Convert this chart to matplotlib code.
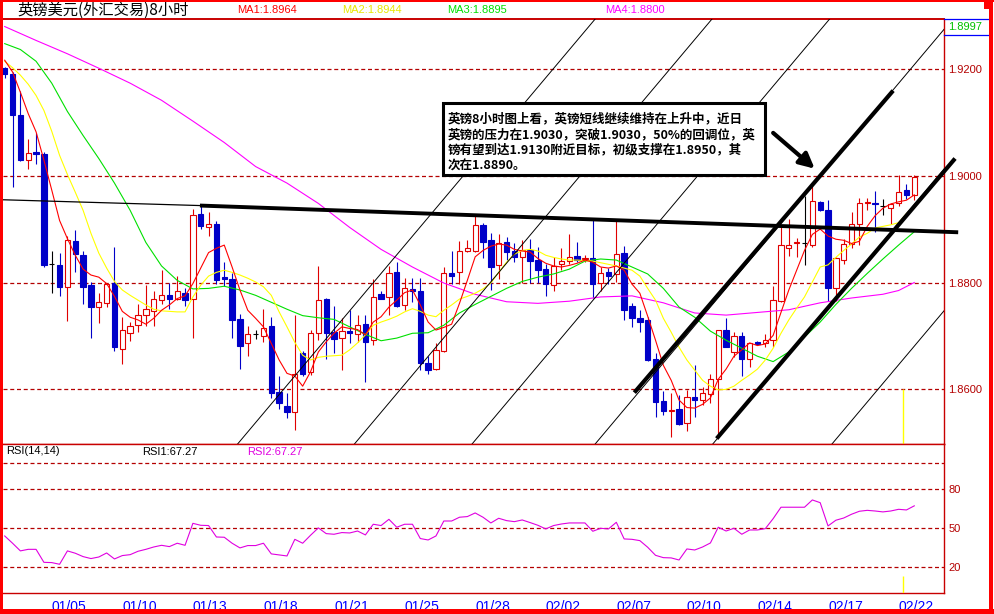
import numpy as np
import matplotlib
matplotlib.use("Agg")
import matplotlib.pyplot as plt
from matplotlib.patches import Rectangle
from matplotlib.lines import Line2D

# ---- 8 hour GBP/USD bars ----
opens = [1.9201, 1.9191, 1.9114, 1.9030, 1.9044, 1.9040, 1.8834, 1.8832, 1.8792, 1.8878,
         1.8851, 1.8795, 1.8754, 1.8762, 1.8799, 1.8676, 1.8705, 1.8720, 1.8739, 1.8747,
         1.8768, 1.8776, 1.8770, 1.8781, 1.8770, 1.8928, 1.8904, 1.8909, 1.8811, 1.8807,
         1.8731, 1.8686, 1.8703, 1.8700, 1.8719, 1.8596, 1.8569, 1.8558, 1.8669, 1.8632,
         1.8706, 1.8769, 1.8708, 1.8697, 1.8709, 1.8703, 1.8723, 1.8692, 1.8779, 1.8773,
         1.8819, 1.8758, 1.8787, 1.8784, 1.8649, 1.8638, 1.8672, 1.8817, 1.8819, 1.8859,
         1.8859, 1.8907, 1.8879, 1.8832, 1.8875, 1.8859, 1.8848, 1.8861, 1.8842, 1.8825,
         1.8795, 1.8834, 1.8840, 1.8849, 1.8844, 1.8845, 1.8799, 1.8820, 1.8816, 1.8855,
         1.8756, 1.8733, 1.8730, 1.8657, 1.8579, 1.8560, 1.8563, 1.8538, 1.8585, 1.8581,
         1.8591, 1.8619, 1.8712, 1.8670, 1.8700, 1.8657, 1.8688, 1.8686, 1.8693, 1.8765,
         1.8865, 1.8873, 1.8874, 1.8871, 1.8951, 1.8936, 1.8789, 1.8843, 1.8872, 1.8910,
         1.8948, 1.8949, 1.8943, 1.8939, 1.8948, 1.8973, 1.8964]
highs = [1.9203, 1.9194, 1.9159, 1.9069, 1.9079, 1.9045, 1.8859, 1.8855, 1.8887, 1.8898,
         1.8859, 1.8801, 1.8781, 1.8799, 1.8867, 1.8736, 1.8726, 1.8759, 1.8796, 1.8784,
         1.8823, 1.8800, 1.8812, 1.8789, 1.8938, 1.8944, 1.8932, 1.8916, 1.8839, 1.8817,
         1.8742, 1.8718, 1.8711, 1.8750, 1.8736, 1.8625, 1.8594, 1.8740, 1.8672, 1.8712,
         1.8830, 1.8771, 1.8756, 1.8733, 1.8748, 1.8740, 1.8740, 1.8806, 1.8785, 1.8830,
         1.8839, 1.8809, 1.8809, 1.8809, 1.8663, 1.8686, 1.8829, 1.8859, 1.8878, 1.8879,
         1.8926, 1.8911, 1.8893, 1.8890, 1.8885, 1.8873, 1.8879, 1.8882, 1.8867, 1.8835,
         1.8847, 1.8864, 1.8890, 1.8876, 1.8852, 1.8918, 1.8829, 1.8827, 1.8916, 1.8868,
         1.8762, 1.8748, 1.8735, 1.8668, 1.8597, 1.8593, 1.8589, 1.8599, 1.8645, 1.8604,
         1.8629, 1.8712, 1.8734, 1.8708, 1.8708, 1.8687, 1.8690, 1.8703, 1.8793, 1.8907,
         1.8918, 1.8884, 1.8961, 1.8980, 1.8953, 1.8955, 1.8847, 1.8882, 1.8932, 1.8958,
         1.8958, 1.8971, 1.8957, 1.8948, 1.9001, 1.8984, 1.9001]
lows = [1.9183, 1.8979, 1.9028, 1.9013, 1.9021, 1.8829, 1.8781, 1.8775, 1.8728, 1.8820,
        1.8759, 1.8696, 1.8724, 1.8754, 1.8672, 1.8647, 1.8690, 1.8708, 1.8718, 1.8719,
        1.8759, 1.8751, 1.8767, 1.8756, 1.8696, 1.8900, 1.8887, 1.8798, 1.8794, 1.8696,
        1.8638, 1.8663, 1.8695, 1.8689, 1.8584, 1.8563, 1.8547, 1.8524, 1.8625, 1.8627,
        1.8692, 1.8657, 1.8668, 1.8637, 1.8686, 1.8689, 1.8614, 1.8683, 1.8770, 1.8739,
        1.8754, 1.8748, 1.8764, 1.8636, 1.8628, 1.8636, 1.8670, 1.8798, 1.8798, 1.8857,
        1.8857, 1.8845, 1.8786, 1.8807, 1.8842, 1.8839, 1.8799, 1.8799, 1.8799, 1.8775,
        1.8784, 1.8823, 1.8834, 1.8839, 1.8838, 1.8771, 1.8784, 1.8798, 1.8801, 1.8730,
        1.8716, 1.8708, 1.8653, 1.8548, 1.8553, 1.8511, 1.8533, 1.8523, 1.8548, 1.8571,
        1.8574, 1.8511, 1.8679, 1.8660, 1.8625, 1.8642, 1.8683, 1.8680, 1.8680, 1.8764,
        1.8849, 1.8847, 1.8832, 1.8867, 1.8934, 1.8766, 1.8765, 1.8834, 1.8864, 1.8870,
        1.8936, 1.8895, 1.8926, 1.8910, 1.8944, 1.8957, 1.8954]
closes = [1.9190, 1.9114, 1.9030, 1.9042, 1.9040, 1.8832, 1.8834, 1.8791, 1.8879, 1.8854,
          1.8792, 1.8754, 1.8763, 1.8798, 1.8680, 1.8711, 1.8718, 1.8739, 1.8750, 1.8770,
          1.8776, 1.8769, 1.8784, 1.8768, 1.8927, 1.8905, 1.8909, 1.8804, 1.8807, 1.8730,
          1.8681, 1.8703, 1.8703, 1.8714, 1.8594, 1.8574, 1.8558, 1.8628, 1.8629, 1.8705,
          1.8767, 1.8706, 1.8695, 1.8709, 1.8705, 1.8721, 1.8688, 1.8773, 1.8770, 1.8817,
          1.8756, 1.8789, 1.8784, 1.8650, 1.8636, 1.8673, 1.8817, 1.8813, 1.8859, 1.8864,
          1.8907, 1.8876, 1.8829, 1.8874, 1.8857, 1.8848, 1.8861, 1.8840, 1.8823, 1.8798,
          1.8831, 1.8840, 1.8847, 1.8843, 1.8846, 1.8798, 1.8818, 1.8812, 1.8854, 1.8748,
          1.8733, 1.8726, 1.8655, 1.8577, 1.8560, 1.8562, 1.8535, 1.8586, 1.8580, 1.8594,
          1.8619, 1.8711, 1.8680, 1.8700, 1.8656, 1.8686, 1.8685, 1.8693, 1.8767, 1.8870,
          1.8870, 1.8875, 1.8874, 1.8952, 1.8936, 1.8789, 1.8845, 1.8872, 1.8909, 1.8948,
          1.8950, 1.8946, 1.8943, 1.8946, 1.8969, 1.8964, 1.8997]

# moving average lines as drawn on the chart
ma1 = [1.9216, 1.9194, 1.9156, 1.9116, 1.9082, 1.9029, 1.8973, 1.8916, 1.8882, 1.8851,
       1.8825, 1.8814, 1.8810, 1.8798, 1.8774, 1.8746, 1.8735, 1.8730, 1.8722, 1.8733,
       1.8748, 1.8758, 1.8770, 1.8775, 1.8798, 1.8827, 1.8856, 1.8864, 1.8870, 1.8829,
       1.8786, 1.8748, 1.8733, 1.8717, 1.8686, 1.8655, 1.8630, 1.8625, 1.8606, 1.8633,
       1.8670, 1.8689, 1.8705, 1.8717, 1.8714, 1.8712, 1.8702, 1.8726, 1.8736, 1.8754,
       1.8767, 1.8781, 1.8786, 1.8758, 1.8726, 1.8711, 1.8716, 1.8722, 1.8761, 1.8804,
       1.8848, 1.8860, 1.8868, 1.8872, 1.8870, 1.8862, 1.8859, 1.8857, 1.8845, 1.8836,
       1.8831, 1.8829, 1.8832, 1.8836, 1.8842, 1.8838, 1.8829, 1.8827, 1.8831, 1.8823,
       1.8797, 1.8780, 1.8737, 1.8692, 1.8645, 1.8617, 1.8580, 1.8566, 1.8565, 1.8572,
       1.8584, 1.8619, 1.8638, 1.8662, 1.8674, 1.8687, 1.8682, 1.8685, 1.8701, 1.8744,
       1.8786, 1.8823, 1.8860, 1.8890, 1.8900, 1.8887, 1.8881, 1.8879, 1.8873, 1.8877,
       1.8905, 1.8925, 1.8939, 1.8947, 1.8951, 1.8954, 1.8964]
ma2 = [1.9214, 1.9202, 1.9188, 1.9171, 1.9150, 1.9122, 1.9083, 1.9038, 1.9002, 1.8969,
       1.8935, 1.8892, 1.8855, 1.8827, 1.8802, 1.8786, 1.8776, 1.8767, 1.8758, 1.8750,
       1.8747, 1.8746, 1.8745, 1.8745, 1.8773, 1.8795, 1.8812, 1.8819, 1.8823, 1.8819,
       1.8814, 1.8808, 1.8801, 1.8792, 1.8776, 1.8745, 1.8717, 1.8688, 1.8664, 1.8655,
       1.8660, 1.8662, 1.8663, 1.8664, 1.8674, 1.8687, 1.8702, 1.8720, 1.8726, 1.8731,
       1.8737, 1.8745, 1.8751, 1.8746, 1.8739, 1.8736, 1.8748, 1.8758, 1.8769, 1.8774,
       1.8780, 1.8788, 1.8799, 1.8819, 1.8838, 1.8853, 1.8860, 1.8862, 1.8859, 1.8851,
       1.8847, 1.8844, 1.8842, 1.8842, 1.8841, 1.8840, 1.8837, 1.8834, 1.8831, 1.8827,
       1.8823, 1.8812, 1.8789, 1.8767, 1.8733, 1.8707, 1.8679, 1.8655, 1.8636, 1.8617,
       1.8606, 1.8599, 1.8600, 1.8606, 1.8617, 1.8627, 1.8638, 1.8655, 1.8677, 1.8705,
       1.8730, 1.8752, 1.8773, 1.8801, 1.8829, 1.8833, 1.8847, 1.8860, 1.8872, 1.8885,
       1.8892, 1.8902, 1.8905, 1.8908, 1.8912, 1.8929, 1.8944]
ma3_idx = list(range(0, 117, 2))
ma3 = [1.9247, 1.9236, 1.9214, 1.9173, 1.9120, 1.9075, 1.9032, 1.8986, 1.8935, 1.8875,
       1.8831, 1.8804, 1.8788, 1.8789, 1.8793, 1.8786, 1.8776, 1.8763, 1.8750, 1.8738,
       1.8734, 1.8731, 1.8717, 1.8703, 1.8691, 1.8696, 1.8705, 1.8706, 1.8720, 1.8743,
       1.8759, 1.8774, 1.8789, 1.8802, 1.8810, 1.8816, 1.8825, 1.8840, 1.8844, 1.8842,
       1.8829, 1.8816, 1.8789, 1.8754, 1.8735, 1.8709, 1.8692, 1.8677, 1.8662, 1.8652,
       1.8670, 1.8698, 1.8726, 1.8759, 1.8789, 1.8817, 1.8844, 1.8870, 1.8895]
ma4_idx = list(range(0, 113, 4)) + [114, 116]
ma4 = [1.9279, 1.9253, 1.9228, 1.9201, 1.9173, 1.9141, 1.9102, 1.9062, 1.9017, 1.8986,
       1.8948, 1.8903, 1.8862, 1.8829, 1.8799, 1.8778, 1.8764, 1.8761, 1.8765, 1.8773,
       1.8775, 1.8762, 1.8743, 1.8739, 1.8744, 1.8749, 1.8762, 1.8771, 1.8778, 1.8785,
       1.8800]

rsi = [44.1, 38.5, 32.6, 33.8, 33.8, 23.8, 23.6, 22.3, 32.6, 30.8,
       28.2, 26.7, 27.9, 31.0, 26.4, 29.0, 29.7, 32.3, 33.8, 35.6,
       36.9, 35.9, 38.5, 36.9, 53.8, 52.3, 52.1, 43.3, 43.1, 38.5,
       34.9, 36.7, 36.7, 38.5, 30.3, 29.5, 28.7, 41.5, 38.5, 44.6,
       50.3, 45.9, 45.4, 46.7, 46.4, 47.9, 44.9, 53.1, 52.1, 56.9,
       50.8, 53.1, 53.1, 42.1, 41.0, 44.1, 55.6, 55.6, 58.5, 59.0,
       61.8, 58.5, 54.1, 57.7, 55.9, 55.1, 56.4, 54.4, 52.3, 49.5,
       52.1, 53.3, 54.1, 54.1, 54.1, 47.7, 50.0, 49.5, 54.6, 41.8,
       41.5, 40.5, 35.4, 29.2, 27.4, 27.2, 25.6, 34.1, 33.3, 35.6,
       38.7, 50.8, 47.9, 50.0, 45.4, 48.7, 48.7, 49.7, 57.4, 66.2,
       66.2, 66.2, 66.2, 71.8, 69.7, 51.8, 56.2, 57.9, 60.8, 63.1,
       63.8, 63.3, 62.6, 63.3, 64.6, 64.1, 67.27]

day_idx = [6, 15, 24, 33, 42, 51, 60, 69, 78, 87, 96, 105, 114]
day_labels = ["01/05", "01/10", "01/13", "01/18", "01/21", "01/25", "01/28",
              "02/02", "02/07", "02/10", "02/14", "02/17", "02/22"]
price_ticks = [1.86, 1.88, 1.90, 1.92]
rsi_ticks = [20, 50, 80]
rsi_grid = [20, 50, 80, 100]

# hand drawn analysis lines (candle index, price)
fan_base = [30.2, 45.1, 60.1, 75.8, 90.8, 106.0]   # where each thin line crosses 1.8507
fan_slope = 0.001744
neck_thin = ([-0.6, 24.9], [1.8955, 1.8944])
neck = ([24.9, 121.6], [1.8944, 1.8894])
chan_upper = ([80.3, 113.3], [1.8594, 1.9159])
chan_lower = ([90.8, 121.2], [1.8508, 1.9032])
arrow_from = (98.0, 1.9080)
arrow_to = (103.3, 1.9013)

note_lines = ["英镑8小时图上看，英镑短线继续维持在上升中，近日",
              "英镑的压力在1.9030，突破1.9030，50%的回调位，英",
              "镑有望到达1.9130附近目标，初级支撑在1.8950，其",
              "次在1.8890。"]

W, H = 995, 614
CJK = ["Noto Sans CJK SC", "DejaVu Sans"]
plt.rcParams["font.family"] = ["Liberation Sans", "DejaVu Sans"]

RED_C = "#e00000"
BLUE_C = "#0000c8"
AX_RED = "#c80000"
GRID = "#b40000"
DASH = (0, (3.2, 2.2))


def fx(px):
    return px / W


def fy(py):
    return 1 - py / H


fig = plt.figure(figsize=(W / 100, H / 100), dpi=100)
fig.patch.set_facecolor("white")
ax = fig.add_axes([fx(3), fy(444), (944 - 3) / W, (444 - 19) / H])
ax2 = fig.add_axes([fx(3), fy(593), (944 - 3) / W, (593 - 444) / H])

xlim = (-0.217, 119.79)

# ---------------- price panel ----------------
bw = 0.68
for i, (o, h, l, c) in enumerate(zip(opens, highs, lows, closes)):
    if c > o:
        ax.vlines(i, l, o, color=RED_C, lw=0.8, zorder=2)
        ax.vlines(i, c, h, color=RED_C, lw=0.8, zorder=2)
        ax.add_patch(Rectangle((i - bw / 2, o), bw, c - o, facecolor="white",
                               edgecolor=RED_C, lw=0.8, zorder=3))
    elif c < o:
        ax.vlines(i, l, h, color=BLUE_C, lw=0.8, zorder=2)
        ax.add_patch(Rectangle((i - bw / 2, c), bw, o - c, facecolor=BLUE_C,
                               edgecolor=BLUE_C, lw=0.8, zorder=3))
    else:
        ax.vlines(i, l, h, color="black", lw=0.8, zorder=2)
        ax.hlines(c, i - bw / 2, i + bw / 2, color="black", lw=0.8, zorder=3)

idx = np.arange(len(closes))
ax.plot(ma4_idx, ma4, color="#ff00ff", lw=0.8, zorder=4)
ax.plot(ma3_idx, ma3, color="#00e000", lw=0.8, zorder=4)
ax.plot(idx, ma2, color="#ffff00", lw=0.8, zorder=4)
ax.plot(idx, ma1, color="#ff0000", lw=0.8, zorder=4)

for v in price_ticks:
    ax.axhline(v, color=GRID, lw=0.9, ls=DASH, zorder=1)

# thin parallel lines
p0 = 1.85065
for b in fan_base:
    ax.plot([b - 15, b + 60], [p0 - 15 * fan_slope, p0 + 60 * fan_slope],
            color="black", lw=0.7, zorder=4)

ax.plot(*neck_thin, color="black", lw=0.9, zorder=5)
ax.plot(*neck, color="black", lw=2.8, zorder=5, clip_on=False, solid_capstyle="butt")
ax.plot(*chan_upper, color="black", lw=3, zorder=5, solid_capstyle="butt")
ax.plot(*chan_lower, color="black", lw=3, zorder=5, clip_on=False, solid_capstyle="butt")
ax.annotate("", xy=arrow_to, xytext=arrow_from, annotation_clip=False, zorder=6,
            arrowprops=dict(arrowstyle="-|>,head_length=0.9,head_width=0.45",
                            lw=3, color="black", shrinkA=0, shrinkB=0))

ax.vlines(114.5, 1.8497, 1.86, color="#ffff00", lw=1, zorder=4)

ax.set_xlim(*xlim)
ax.set_ylim(1.84978, 1.92931)
ax.set_xticks([])
ax.yaxis.tick_right()
ax.set_yticks(price_ticks)
ax.set_yticklabels([f"{v:.4f}" for v in price_ticks])
ax.tick_params(axis="y", length=0, pad=3, labelsize=8, labelcolor=GRID)
ax.spines["left"].set_visible(False)
for s in ["top", "right", "bottom"]:
    ax.spines[s].set_color(AX_RED)
ax.spines["top"].set_linewidth(1.4)
ax.spines["right"].set_linewidth(1.0)
ax.spines["bottom"].set_linewidth(1.0)

# ---------------- RSI panel ----------------
for v in rsi_grid:
    ax2.axhline(v, color=GRID, lw=0.9, ls=DASH, zorder=1)
ax2.plot(idx, rsi, color="#e000e0", lw=0.8, zorder=3)
ax2.vlines(114.5, 0, 13.5, color="#ffff00", lw=1, zorder=3)
ax2.set_xlim(*xlim)
ax2.set_ylim(0.2, 114.85)
ax2.yaxis.tick_right()
ax2.set_yticks(rsi_ticks)
ax2.set_yticklabels([str(v) for v in rsi_ticks])
ax2.tick_params(axis="y", length=0, pad=3, labelsize=8, labelcolor=GRID)
ax2.set_xticks(day_idx)
ax2.set_xticklabels(day_labels)
ax2.tick_params(axis="x", length=0, pad=5, labelsize=10, labelcolor="#0000ff")
for lbl in ax2.get_xticklabels():
    lbl.set_ha("left")
ax2.spines["left"].set_visible(False)
for s in ["top", "right", "bottom"]:
    ax2.spines[s].set_color(AX_RED)
    ax2.spines[s].set_linewidth(1.0)

ax2.text(0.003, 0.955, "RSI(14,14)", transform=ax2.transAxes, fontsize=8,
         color="black", va="center")
fig.text(fx(142), fy(452), f"RSI1:{rsi[-1]:.2f}", fontsize=8, color="black", va="center")
fig.text(fx(247), fy(452), f"RSI2:{rsi[-1]:.2f}", fontsize=8, color="#e000e0", va="center")

# ---------------- header ----------------
fig.text(fx(17), fy(10), "英镑美元(外汇交易)8小时", fontsize=11, family=CJK,
         color="black", va="center")
fig.text(fx(237), fy(10), f"MA1:{ma1[-1]:.4f}", fontsize=8, color="#ff0000", va="center")
fig.text(fx(342), fy(10), f"MA2:{ma2[-1]:.4f}", fontsize=8, color="#e8e800", va="center")
fig.text(fx(447), fy(10), f"MA3:{ma3[-1]:.4f}", fontsize=8, color="#00e000", va="center")
fig.text(fx(605), fy(10), f"MA4:{ma4[-1]:.4f}", fontsize=8, color="#ff00ff", va="center")

# last price box at top right
for yy in (19, 35):
    fig.add_artist(Line2D([fx(944), fx(990)], [fy(yy), fy(yy)], color="#0000ff",
                          lw=0.9, transform=fig.transFigure, zorder=7))
fig.text(fx(948), fy(27), f"{closes[-1]:.4f}", fontsize=8, color="#00c000",
         va="center", zorder=8)

# ---------------- comment box ----------------
fig.add_artist(Rectangle((fx(443), fy(174.5)), (765 - 443) / W, (174.5 - 103.5) / H,
                         transform=fig.transFigure, facecolor="white",
                         edgecolor="black", lw=2.2, zorder=5))
for k, line in enumerate(note_lines):
    fig.text(fx(448), fy(119 + 15.6 * k), line, fontsize=9.0, fontweight="bold",
             family=CJK, color="black", va="center", zorder=6)

# ---------------- window frame ----------------
frame = dict(transform=fig.transFigure, facecolor="#ff0000", edgecolor="none", zorder=10)
fig.add_artist(Rectangle((0, 0), fx(3), 1, **frame))
fig.add_artist(Rectangle((0, 0), 1, 5.5 / H, **frame))
fig.add_artist(Rectangle((fx(989.5), 0), 4 / W, 1, **frame))
fig.add_artist(Rectangle((0, fy(2)), 1, 2 / H, **frame))
fig.add_artist(Rectangle((fx(984), fy(9)), 7 / W, 7 / H, **frame))

fig.savefig("out.png", dpi=100)
plt.close(fig)
